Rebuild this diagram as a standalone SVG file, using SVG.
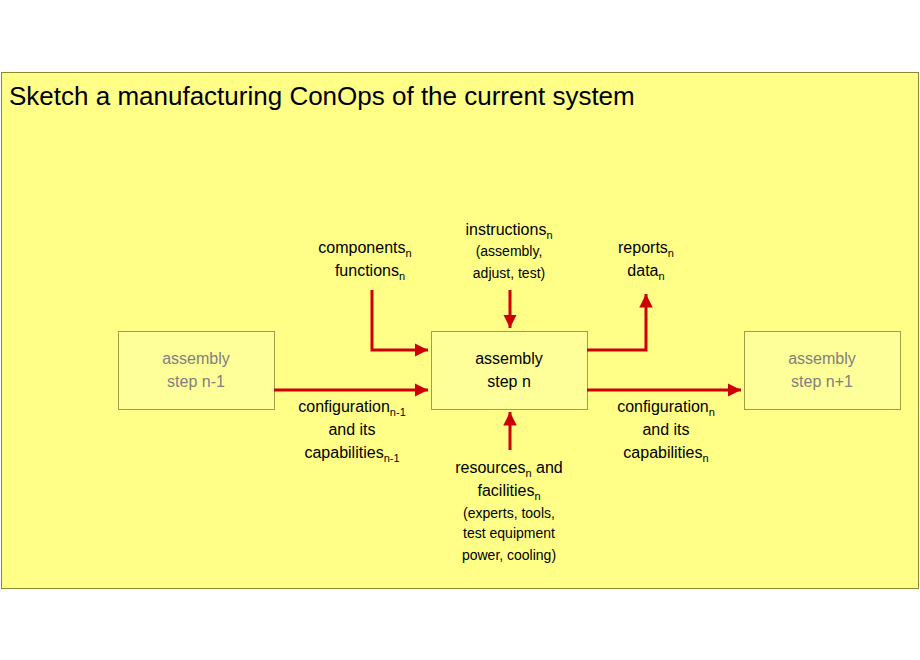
<svg xmlns="http://www.w3.org/2000/svg" width="920" height="660" viewBox="0 0 920 660">
<defs>
<style>
text{font-family:"Liberation Sans",Arial,sans-serif;font-size:16px;fill:#000;text-anchor:middle}
.s{font-size:14px}
.g{fill:#808080}
.sub{font-size:11px}
.box{fill:#ffff99;stroke:#a0a040;stroke-width:1}
.c{fill:none;stroke:#cc0000;stroke-width:3}
</style>
<marker id="a" viewBox="0 0 10 10" refX="10" refY="5" markerWidth="4.5" markerHeight="4.5" orient="auto" markerUnits="strokeWidth"><path d="M0,0L10,5L0,10z" fill="#cc0000"/></marker>
</defs>
<rect width="920" height="660" fill="#fff"/>
<rect x="1.5" y="72.5" width="917" height="516" fill="#ffff88" stroke="#8a8a30"/>
<text x="9" y="105" style="font-size:26px;text-anchor:start">Sketch a manufacturing ConOps of the current system</text>
<g id="step-prev"><rect class="box" x="118.5" y="331.5" width="156" height="78"/><text class="g" x="196" y="364">assembly</text><text class="g" x="196" y="387">step n-1</text></g>
<g id="step-n"><rect class="box" x="431.5" y="331.5" width="156" height="78"/><text x="509" y="364">assembly</text><text x="509" y="387">step n</text></g>
<g id="step-next"><rect class="box" x="744.5" y="331.5" width="156" height="78"/><text class="g" x="822" y="364">assembly</text><text class="g" x="822" y="387">step n+1</text></g>
<g id="connectors">
<path class="c" d="M372,290V350H428" marker-end="url(#a)"/>
<path class="c" d="M510,290V328" marker-end="url(#a)"/>
<path class="c" d="M587,350H646V294" marker-end="url(#a)"/>
<path class="c" d="M274,390H428" marker-end="url(#a)"/>
<path class="c" d="M587,390H741" marker-end="url(#a)"/>
<path class="c" d="M510,450V412" marker-end="url(#a)"/>
</g>
<g id="labels">
<text x="365" y="253">components<tspan class="sub" dy="4">n</tspan></text>
<text x="370" y="276">functions<tspan class="sub" dy="4">n</tspan></text>
<text x="509" y="235">instructions<tspan class="sub" dy="4">n</tspan></text>
<text class="s" x="509" y="256">(assembly,</text>
<text class="s" x="509" y="278">adjust, test)</text>
<text x="646" y="253">reports<tspan class="sub" dy="4">n</tspan></text>
<text x="646" y="276">data<tspan class="sub" dy="4">n</tspan></text>
<text x="352" y="412">configuration<tspan class="sub" dy="4">n-1</tspan></text>
<text x="352" y="435">and its</text>
<text x="352" y="458">capabilities<tspan class="sub" dy="4">n-1</tspan></text>
<text x="666" y="412">configuration<tspan class="sub" dy="4">n</tspan></text>
<text x="666" y="435">and its</text>
<text x="666" y="458">capabilities<tspan class="sub" dy="4">n</tspan></text>
<text x="509" y="473">resources<tspan class="sub" dy="4">n</tspan><tspan dy="-4"> and</tspan></text>
<text x="509" y="496">facilities<tspan class="sub" dy="4">n</tspan></text>
<text class="s" x="509" y="518">(experts, tools,</text>
<text class="s" x="509" y="538">test equipment</text>
<text class="s" x="509" y="560">power, cooling)</text>
</g>
</svg>
